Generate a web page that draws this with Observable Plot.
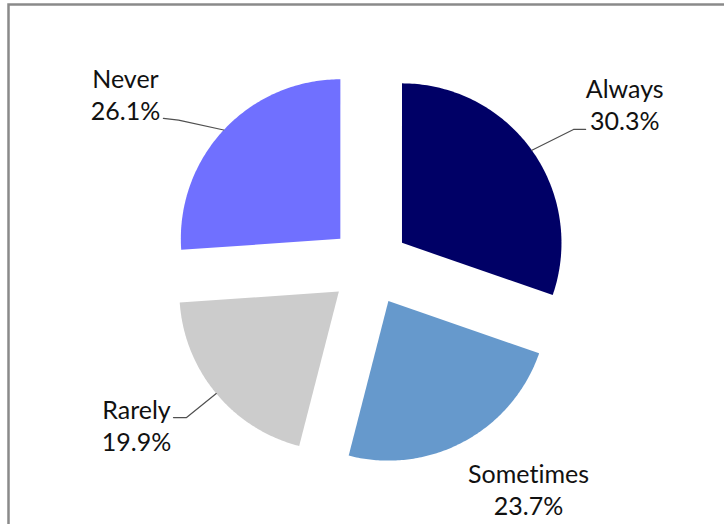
<!DOCTYPE html>
<html>
<head>
<meta charset="utf-8">
<script src="https://cdn.jsdelivr.net/npm/d3@7"></script>
<script src="https://cdn.jsdelivr.net/npm/@observablehq/plot@0.6"></script>
<style>
  html, body { margin: 0; padding: 0; background: #fff; }
  #chart svg { display: block; }
  #chart text { font-variant-ligatures: none; font-feature-settings: "liga" 0; }
</style>
</head>
<body>
<div id="chart"></div>
<script>
// ---- data ----
const categories = ["Always", "Sometimes", "Rarely", "Never"];
const percents = [30.3, 23.7, 19.9, 26.1];
const percentLabels = ["30.3%", "23.7%", "19.9%", "26.1%"];
const colors = ["#000066", "#6699CC", "#CCCCCC", "#7070FF"];

// ---- layout (unit = pie radius, y grows downward) ----
const W = 724, H = 524;
const center = [369, 265.5], radius = 159.5;
const explode = 0.25;
const labelPos = [[1.600, -1.016], [0.997, 1.395], [-1.461, 0.993], [-1.530, -1.082]];
const leaderStart = [
  [[1.355, -0.856], [1.279, -0.856]],
  null,
  [[-1.229, 0.950], [-1.147, 0.950]],
  [[-1.292, -0.925], [-1.197, -0.915]]
];

const arcs = d3.pie().sort(null)(percents);

const slices = arcs.map((a, i) => {
  const mid = (a.startAngle + a.endAngle) / 2;
  const ox = explode * Math.sin(mid), oy = -explode * Math.cos(mid);
  const n = 120;
  const pts = [{x: ox, y: oy}];
  for (let k = 0; k <= n; k++) {
    const t = a.startAngle + (a.endAngle - a.startAngle) * k / n;
    pts.push({x: ox + Math.sin(t), y: oy - Math.cos(t)});
  }
  pts.push({x: ox, y: oy});
  return {name: categories[i], color: colors[i], pts, mid, ox, oy};
});

const leaders = [];
slices.forEach((s, i) => {
  if (!leaderStart[i]) return;
  leaderStart[i].forEach(p => leaders.push({name: s.name, x: p[0], y: p[1]}));
  leaders.push({name: s.name, x: s.ox + Math.sin(s.mid), y: s.oy - Math.cos(s.mid)});
});

const labels = categories.map((c, i) => ({
  x: labelPos[i][0], y: labelPos[i][1], text: c + "\n" + percentLabels[i]
}));

const fontSize = 25;

const plot = Plot.plot({
  width: W, height: H,
  margin: 0,
  x: {domain: [-1, 1], range: [center[0] - radius, center[0] + radius], axis: null},
  y: {domain: [-1, 1], range: [center[1] - radius, center[1] + radius], axis: null},
  style: {fontFamily: "Lato, 'Open Sans', sans-serif", background: "#fff"},
  marks: [
    Plot.frame({stroke: "#8a8a8a", strokeWidth: 2.5, insetLeft: 8, insetTop: 4, insetRight: -20, insetBottom: -20}),
    ...slices.map(s => Plot.line(s.pts, {x: "x", y: "y", fill: s.color, stroke: "none", curve: "linear"})),
    Plot.line(leaders, {x: "x", y: "y", z: "name", stroke: "#505050", strokeWidth: 1.2}),
    Plot.text(labels, {x: "x", y: "y", text: "text", fontSize, lineHeight: 32 / fontSize, textAnchor: "middle", fill: "#111"})
  ]
});
document.getElementById("chart").appendChild(plot);
</script>
</body>
</html>
